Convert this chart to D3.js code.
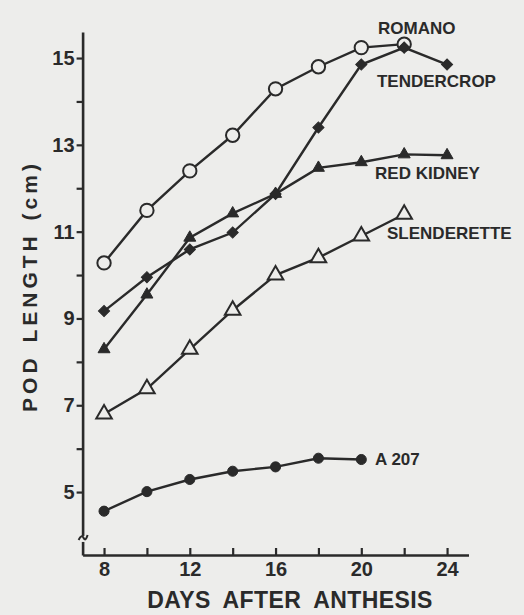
<!DOCTYPE html>
<html>
<head>
<meta charset="utf-8">
<script src="https://cdn.jsdelivr.net/npm/d3@7"></script>
<style>
  body { margin: 0; background: #ededeb; }
  svg { display: block; }
  text { font-family: "Liberation Sans", Arial, sans-serif; font-weight: bold; fill: #2a2a2a; }
</style>
</head>
<body>
<script>
// data: pod length (cm) by days after anthesis
var days = [8, 10, 12, 14, 16, 18, 20, 22, 24];
var romano = [10.28, 11.49, 12.40, 13.22, 14.29, 14.80, 15.24, 15.32, null];
var tendercrop = [9.17, 9.95, 10.59, 10.98, 11.87, 13.40, 14.85, 15.24, 14.85];
var redKidney = [8.29, 9.55, 10.86, 11.42, 11.87, 12.47, 12.60, 12.78, 12.76];
var slenderette = [6.80, 7.38, 8.29, 9.19, 10.00, 10.40, 10.90, 11.40, null];
var a207 = [4.56, 5.01, 5.29, 5.48, 5.58, 5.78, 5.75, null, null];

var seriesNames = ["ROMANO", "TENDERCROP", "RED KIDNEY", "SLENDERETTE", "A 207"];
var xTicks = [8, 10, 12, 14, 16, 18, 20, 22, 24];
var xTickLabels = [8, 12, 16, 20, 24];
var yTicks = [5, 6, 7, 8, 9, 10, 11, 12, 13, 14, 15];
var yTickLabels = [5, 7, 9, 11, 13, 15];

var width = 524, height = 615;
var ink = "#2a2a2a", paper = "#ededeb";

var svg = d3.select("body").append("svg")
  .attr("width", width)
  .attr("height", height);

// scales
var x = d3.scaleLinear().domain([7, 25]).range([82.6, 468.5]);
var y = d3.scaleLinear().domain([3.55, 15.6]).range([555, 32]);

// axes
var xAxis = svg.append("g")
  .attr("transform", "translate(0," + y(3.55) + ")")
  .call(d3.axisBottom(x)
    .tickValues(xTicks)
    .tickSizeInner(-7)
    .tickSizeOuter(0)
    .tickPadding(7)
    .tickFormat(function (d) { return xTickLabels.indexOf(d) >= 0 ? d : ""; }));

var yAxis = svg.append("g")
  .attr("transform", "translate(" + x(7) + ",0)")
  .call(d3.axisLeft(y)
    .tickValues(yTicks)
    .tickSizeInner(6)
    .tickSizeOuter(0)
    .tickPadding(2)
    .tickFormat(function (d) { return yTickLabels.indexOf(d) >= 0 ? d : ""; }));

[xAxis, yAxis].forEach(function (g) {
  g.select(".domain").attr("stroke", ink).attr("stroke-width", 2.6);
  g.selectAll(".tick line").attr("stroke", ink).attr("stroke-width", 2.2);
  g.selectAll(".tick text")
    .attr("fill", ink)
    .style("font-size", "20px")
    .style("font-family", "'Liberation Sans', Arial, sans-serif")
    .style("font-weight", "bold");
});

// axis break near the bottom of the y axis
var bx = x(7), by = y(3.92);
svg.append("rect")
  .attr("x", bx - 3).attr("y", by - 3)
  .attr("width", 6).attr("height", 6)
  .attr("fill", paper);
svg.append("path")
  .attr("d", "M" + (bx - 4) + "," + (by + 1) + " q3,-6 5,-2 t4,-3")
  .attr("fill", "none").attr("stroke", ink).attr("stroke-width", 2);

// axis titles
svg.append("text")
  .attr("x", 290)
  .attr("y", 608)
  .attr("text-anchor", "middle")
  .style("font-size", "23px")
  .style("letter-spacing", "0.4px")
  .style("word-spacing", "6px")
  .text("DAYS AFTER ANTHESIS");

svg.append("text")
  .attr("transform", "translate(37,286) rotate(-90)")
  .attr("text-anchor", "middle")
  .style("font-size", "21px")
  .style("letter-spacing", "4px")
  .style("word-spacing", "2px")
  .text("POD LENGTH (cm)");

// series lines and markers
var allSeries = [romano, tendercrop, redKidney, slenderette, a207];
var markers = [
  { type: d3.symbolCircle, size: 140, fill: paper, rotate: 0 },
  { type: d3.symbolSquare, size: 62, fill: ink, rotate: 45 },
  { type: d3.symbolTriangle, size: 62, fill: ink, rotate: 0 },
  { type: d3.symbolTriangle, size: 105, fill: paper, rotate: 0 },
  { type: d3.symbolCircle, size: 80, fill: ink, rotate: 0 }
];

var line = d3.line()
  .defined(function (d) { return d.v != null; })
  .x(function (d) { return x(d.day); })
  .y(function (d) { return y(d.v); });

allSeries.forEach(function (vals, i) {
  var pts = days.map(function (d, j) { return { day: d, v: vals[j] }; });
  svg.append("path")
    .datum(pts)
    .attr("d", line)
    .attr("fill", "none")
    .attr("stroke", ink)
    .attr("stroke-width", 2.4);
});

// markers after all lines, romano first so the tendercrop diamond sits inside its last circle
allSeries.forEach(function (vals, i) {
  var pts = days.map(function (d, j) { return { day: d, v: vals[j] }; })
    .filter(function (d) { return d.v != null; });
  var m = markers[i];
  svg.append("g").selectAll("path")
    .data(pts)
    .enter().append("path")
    .attr("d", d3.symbol().type(m.type).size(m.size))
    .attr("transform", function (d) {
      return "translate(" + x(d.day) + "," + y(d.v) + ") rotate(" + m.rotate + ")";
    })
    .attr("fill", m.fill)
    .attr("stroke", ink)
    .attr("stroke-width", m.fill === paper ? 2 : 1);
});

// series labels, placed in data units
var labelDay = [20.78, 20.73, 20.64, 21.2, 20.64];
var labelVal = [15.55, 14.33, 12.21, 10.83, 5.62];
seriesNames.forEach(function (name, i) {
  svg.append("text")
    .attr("x", x(labelDay[i]))
    .attr("y", y(labelVal[i]))
    .style("font-size", "17px")
    .text(name);
});
</script>
</body>
</html>
